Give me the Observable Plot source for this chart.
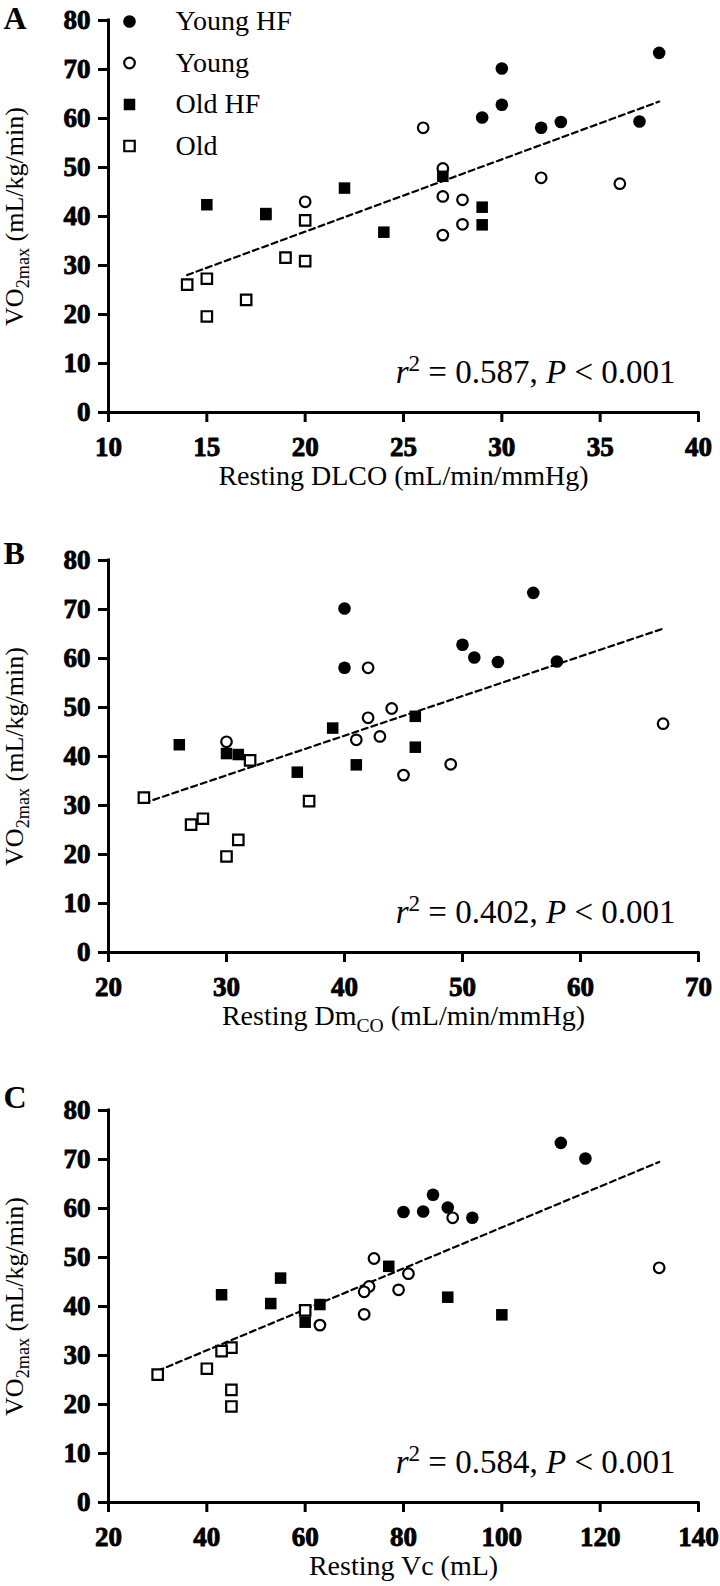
<!DOCTYPE html>
<html><head><meta charset="utf-8">
<script src="https://cdn.jsdelivr.net/npm/d3@7"></script>
<script src="https://cdn.jsdelivr.net/npm/@observablehq/plot@0.6"></script>
<style>
body{margin:0;background:#fff;width:720px;}
#chart > div{line-height:0;}
svg{display:block;}
</style></head><body><div id="chart"></div>
<script>
// ---------- data ----------
const groups = ["Young HF", "Young", "Old HF", "Old"];
// VO2max (mL/kg/min), one value per subject
const vo2YoungHF = [73.4, 70.2, 62.8, 60.2, 59.4, 59.3, 58.1];
const vo2Young   = [58.1, 49.8, 47.9, 46.7, 44.1, 43.4, 43.0, 38.4, 36.2];
const vo2OldHF   = [48.2, 45.8, 42.4, 41.9, 40.6, 40.4, 38.3, 36.8];
const vo2Old     = [39.2, 31.6, 30.9, 27.3, 26.1, 23.0, 19.6];
// Resting DLCO (mL/min/mmHg)
const dlcoYoungHF = [38, 30, 30, 29, 37, 33, 32];
const dlcoYoung   = [26, 27, 32, 36, 27, 28, 20, 28, 27];
const dlcoOldHF   = [27, 22, 15, 29, 18, 18, 29, 24];
const dlcoOld     = [20, 19, 20, 15, 14, 17, 15];
// Resting DmCO (mL/min/mmHg)
const dmYoungHF = [56, 40, 50, 51, 58, 53, 40];
const dmYoung   = [42, 44, 42, 67, 43, 41, 30, 49, 45];
const dmOldHF   = [46, 39, 26, 46, 30, 31, 41, 36];
const dmOld     = [32, 23, 37, 28, 27, 31, 30];
// Resting Vc (mL)
const vcYoungHF = [112, 117, 86, 89, 84, 80, 94];
const vcYoung   = [90, 74, 132, 81, 73, 79, 72, 72, 63];
const vcOldHF   = [77, 55, 43, 89, 53, 63, 100, 60];
const vcOld     = [60, 45, 43, 40, 30, 45, 45];

const panelLetters = ["A", "B", "C"];
const xTitles = ["Resting DLCO (mL/min/mmHg)", "Resting DmCO (mL/min/mmHg)", "Resting Vc (mL)"];
const yTitle = "VO2max (mL/kg/min)";
const xTicksA = [10, 15, 20, 25, 30, 35, 40];
const xTicksB = [20, 30, 40, 50, 60, 70];
const xTicksC = [20, 40, 60, 80, 100, 120, 140];
const yTicks = [0, 10, 20, 30, 40, 50, 60, 70, 80];
const rSquared = ["0.587", "0.402", "0.584"];
const pValue = "< 0.001";

// ---------- styling ----------
const FONT = "'Liberation Serif', 'Times New Roman', serif";
const W = 720, ML = 108, MR = 22, MT = 20, FRAME_H = 392;
const FRAME_W = W - ML - MR;
const groupStyle = {
  "Young HF": {symbol: "circle", r: 6.3, fill: "black", stroke: "none", strokeWidth: 0},
  "Young":    {symbol: "circle", r: 5.3, fill: "white", stroke: "black", strokeWidth: 2.2},
  "Old HF":   {symbol: "square", r: 6.5, fill: "black", stroke: "none", strokeWidth: 0},
  "Old":      {symbol: "square", r: 5.9, fill: "white", stroke: "black", strokeWidth: 2.2}
};
const tickLabelStyle = {fontSize: 27, fontWeight: "bold", fill: "black", stroke: "black", strokeWidth: 0.9};

function rows(xsList) {
  const vo2 = [vo2YoungHF, vo2Young, vo2OldHF, vo2Old];
  const out = [];
  groups.forEach((g, gi) => xsList[gi].forEach((x, i) => out.push({group: g, x, y: vo2[gi][i]})));
  return out;
}

const panels = [
  {data: rows([dlcoYoungHF, dlcoYoung, dlcoOldHF, dlcoOld]), domain: [10, 40], ticks: xTicksA, height: 540, legend: true, letterDy: -14},
  {data: rows([dmYoungHF, dmYoung, dmOldHF, dmOld]), domain: [20, 70], ticks: xTicksB, height: 550, legend: false, letterDy: -19},
  {data: rows([vcYoungHF, vcYoung, vcOldHF, vcOld]), domain: [20, 140], ticks: xTicksC, height: 496, legend: false, letterDy: -25}
];

// rich text specs: [text, kind]
const rich = new Map();
rich.set(yTitle, [["VO", ""], ["2max", "sub"], [" (mL/kg/min)", ""]]);
rich.set("Resting DmCO (mL/min/mmHg)", [["Resting Dm", ""], ["CO", "sub"], [" (mL/min/mmHg)", ""]]);
rSquared.forEach(r => rich.set(`r2 = ${r}, P ${pValue}`, [["r", "i"], ["2", "sup"], [` = ${r}, `, ""], ["P", "i"], [` ${pValue}`, ""]]));

function applyRich(svg) {
  d3.select(svg).selectAll("text").each(function () {
    const spec = rich.get(this.textContent);
    if (!spec) return;
    const sel = d3.select(this);
    const fs = parseFloat(this.getAttribute("font-size") || this.parentNode.getAttribute("font-size")) || 28;
    sel.text(null);
    let off = 0;
    for (const [txt, kind] of spec) {
      const ts = sel.append("tspan").text(txt);
      const target = kind === "sub" ? fs * 0.25 : kind === "sup" ? -fs * 0.36 : 0;
      if (target !== off) ts.attr("dy", target - off);
      off = target;
      if (kind === "sub" || kind === "sup") ts.attr("font-size", fs * 0.7);
      if (kind === "i") ts.attr("font-style", "italic");
    }
  });
}

panels.forEach((p, pi) => {
  const marks = [
    Plot.linearRegressionY(p.data, {x: "x", y: "y", ci: 0, stroke: "black", strokeWidth: 2.2, strokeDasharray: "6,4"}),
    ...groups.map(g => Plot.dot(p.data.filter(d => d.group === g), {x: "x", y: "y", ...groupStyle[g]})),
    // axis lines
    Plot.ruleX([p.domain[0]], {x: d => d, strokeWidth: 3, strokeLinecap: "square"}),
    Plot.ruleY([0], {y: d => d, strokeWidth: 3, strokeLinecap: "square"}),
    // tick marks
    Plot.ruleX(p.ticks, {x: d => d, insetTop: FRAME_H, insetBottom: -10, strokeWidth: 3}),
    Plot.ruleY(yTicks, {y: d => d, insetLeft: -10, insetRight: FRAME_W, strokeWidth: 3}),
    // tick labels
    Plot.text(p.ticks, {x: d => d, frameAnchor: "bottom", dy: 24, lineAnchor: "top", textAnchor: "middle", ...tickLabelStyle, text: d => String(d)}),
    Plot.text(yTicks, {y: d => d, frameAnchor: "left", dx: -18, textAnchor: "end", lineAnchor: "middle", ...tickLabelStyle, text: d => String(d)}),
    // titles
    Plot.text([xTitles[pi]], {frameAnchor: "bottom", dy: 72, fontSize: 28, text: d => d}),
    Plot.text([yTitle], {frameAnchor: "left", dx: -94, rotate: -90, textAnchor: "middle", fontSize: 26, text: d => d}),
    Plot.text([panelLetters[pi]], {frameAnchor: "top-left", dx: -105, dy: p.letterDy, textAnchor: "start", lineAnchor: "top", fontSize: 32, fontWeight: "bold", text: d => d}),
    Plot.text([`r2 = ${rSquared[pi]}, P ${pValue}`], {frameAnchor: "bottom-right", dx: -23, dy: -30, textAnchor: "end", lineAnchor: "bottom", fontSize: 33, text: d => d})
  ];
  if (p.legend) {
    groups.forEach((g, i) => {
      marks.push(Plot.dot([g], {frameAnchor: "top-left", dx: 21, dy: 1 + i * 41.5, ...groupStyle[g]}));
      marks.push(Plot.text([g], {frameAnchor: "top-left", dx: 67, dy: 1 + i * 41.5, textAnchor: "start", lineAnchor: "middle", fontSize: 28, text: d => d}));
    });
  }
  const svg = Plot.plot({
    width: W,
    height: p.height,
    marginLeft: ML,
    marginRight: MR,
    marginTop: MT,
    marginBottom: p.height - MT - FRAME_H,
    style: {fontFamily: FONT, color: "black", background: "white", overflow: "visible"},
    x: {domain: p.domain, axis: null},
    y: {domain: [0, 80], axis: null},
    marks
  });
  applyRich(svg);
  const wrap = document.createElement("div");
  wrap.appendChild(svg);
  document.getElementById("chart").appendChild(wrap);
});
</script>
</body></html>
